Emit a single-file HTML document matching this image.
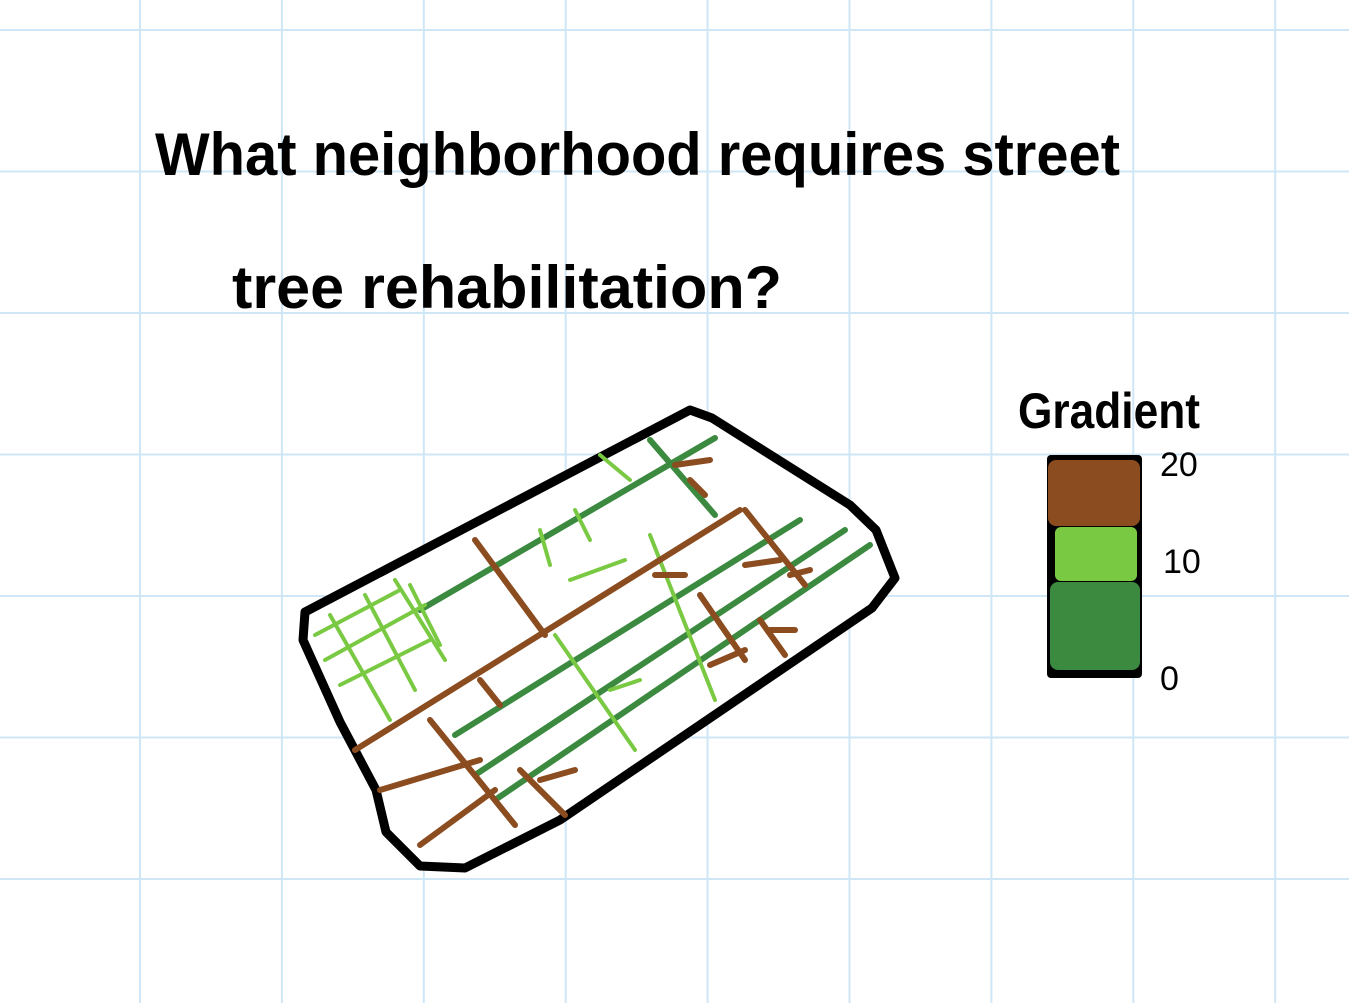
<!DOCTYPE html>
<html><head><meta charset="utf-8"><style>
html,body{margin:0;padding:0;background:#fff;}
svg{display:block;}
</style></head><body>
<svg id="chart" width="1349" height="1003" viewBox="0 0 1349 1003">
<g id="grid"></g>
<text x="155" y="175" font-family="Liberation Sans, sans-serif" font-weight="bold" font-size="60" textLength="965" lengthAdjust="spacingAndGlyphs">What neighborhood requires street</text>
<text x="232" y="308" font-family="Liberation Sans, sans-serif" font-weight="bold" font-size="60" textLength="550" lengthAdjust="spacingAndGlyphs">tree rehabilitation?</text>
<path d="M305,612 L690,410 L712,418 L850,505 L876,530 L895,578 L872,608 L560,820 L465,868 L420,866 L386,832 L376,790 L340,722 L303,640 Z" fill="#fff" stroke="#000" stroke-width="9" stroke-linejoin="round"/>
<g id="streets"></g>
<g>
<text x="1018" y="428" font-family="Liberation Sans, sans-serif" font-weight="bold" font-size="50" textLength="182" lengthAdjust="spacingAndGlyphs">Gradient</text>
<rect x="1047" y="455" width="95" height="223" rx="4" fill="#000"/>
<rect x="1048" y="460" width="92" height="66" rx="8" fill="#8b4c20"/>
<rect x="1055" y="527" width="82" height="54" rx="6" fill="#7ac943"/>
<rect x="1050" y="582" width="90" height="88" rx="8" fill="#3b8a40"/>
<text x="1160" y="476" font-family="Liberation Sans, sans-serif" font-size="34">20</text>
<text x="1163" y="573" font-family="Liberation Sans, sans-serif" font-size="34">10</text>
<text x="1160" y="690" font-family="Liberation Sans, sans-serif" font-size="34">0</text>
</g>
</svg>
<script>
// street segment data: endpoints and gradient value (0-20)
const streetX1 = [420,455,475,495,650,315,325,340,330,365,395,410,540,575,600,555,650,570,610,355,475,480,430,520,540,700,760,770,745,745,790,655,675,690,710,420,380];
const streetY1 = [610,735,775,800,440,635,660,685,615,595,580,585,530,510,455,635,535,580,690,750,540,680,720,770,780,595,620,630,510,565,575,575,465,480,665,845,790];
const streetX2 = [715,800,845,870,715,400,425,430,390,415,445,440,550,590,630,635,715,625,640,740,545,500,515,565,575,745,785,795,805,780,810,685,710,705,745,495,480];
const streetY2 = [438,520,530,545,515,590,605,640,720,690,660,645,565,540,480,750,700,560,680,510,635,705,825,815,770,660,655,630,585,560,570,575,460,495,650,790,760];
const streetValue = [3,3,3,3,3,12,12,12,12,12,12,12,12,12,12,12,12,12,12,18,18,18,18,18,18,18,18,18,18,18,18,18,18,18,18,18,18];
const colorFor = v => v >= 15 ? '#8b4c20' : (v >= 8 ? '#7ac943' : '#3b8a40');
const widthFor = v => v >= 8 && v < 15 ? 4 : 6;
const NS = 'http://www.w3.org/2000/svg';
const grid = document.getElementById('grid');
for (let i = 0; i < 10; i++) {
  const x = 140 + i * 141.9;
  const l = document.createElementNS(NS, 'line');
  l.setAttribute('x1', x); l.setAttribute('x2', x); l.setAttribute('y1', 0); l.setAttribute('y2', 1003);
  l.setAttribute('stroke', '#cfe6f7'); l.setAttribute('stroke-width', 2);
  
  
  grid.appendChild(l);
}
for (let i = 0; i < 8; i++) {
  const y = 30 + i * 141.5;
  const l = document.createElementNS(NS, 'line');
  l.setAttribute('x1', 0); l.setAttribute('x2', 1349); l.setAttribute('y1', y); l.setAttribute('y2', y);
  l.setAttribute('stroke', '#cfe6f7'); l.setAttribute('stroke-width', 2);
  
  
  grid.appendChild(l);
}
const g = document.getElementById('streets');
for (let i = 0; i < streetValue.length; i++) {
  const l = document.createElementNS(NS, 'line');
  l.setAttribute('x1', streetX1[i]); l.setAttribute('y1', streetY1[i]);
  l.setAttribute('x2', streetX2[i]); l.setAttribute('y2', streetY2[i]);
  l.setAttribute('stroke', colorFor(streetValue[i]));
  l.setAttribute('stroke-width', widthFor(streetValue[i]));
  l.setAttribute('stroke-linecap', 'round');
  
  
  g.appendChild(l);
}
</script>
</body></html>
